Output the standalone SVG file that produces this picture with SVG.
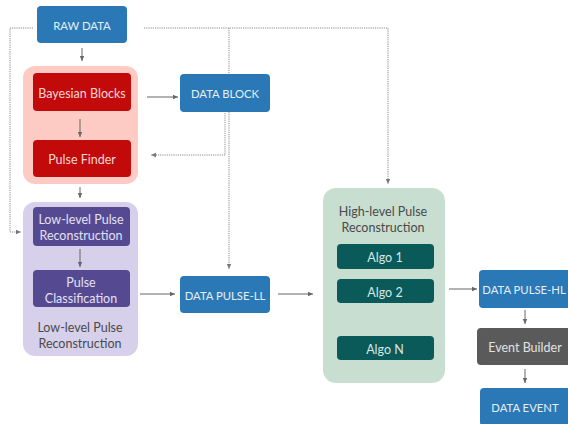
<svg xmlns="http://www.w3.org/2000/svg" width="568" height="424" viewBox="0 0 568 424">
<defs>
<style>
text{font-family:"Lato","Noto Sans","Liberation Sans",sans-serif;font-size:12.5px;text-anchor:middle;dominant-baseline:central}
.blue{fill:#2a79b6}
.wt{fill:#e6eef6;font-size:11.3px}
.gt{fill:#4a4a4a}
.solid{stroke:#666;stroke-width:1;fill:none}
.dot{stroke:#8a8a8a;stroke-width:1;stroke-dasharray:1.2 1;fill:none}
</style>
<marker id="ah" markerWidth="6" markerHeight="6" refX="5" refY="3" orient="auto" markerUnits="userSpaceOnUse">
<path d="M0,0.8 L5,3 L0,5.2 Z" fill="#666"/>
</marker>
<marker id="ahd" markerWidth="6" markerHeight="6" refX="5" refY="3" orient="auto" markerUnits="userSpaceOnUse">
<path d="M0,0.8 L5,3 L0,5.2 Z" fill="#777"/>
</marker>
</defs>
<rect width="568" height="424" fill="#fff"/>
<g id="raw-data"><rect class="blue" x="37" y="6" width="90" height="37" rx="4"/><text class="wt" x="82" y="25">RAW DATA</text></g>
<g id="pulse-finding-group"><rect x="23" y="66" width="115" height="118" rx="12" fill="#fdcbc3"/></g>
<g id="bayesian-blocks"><rect x="33" y="73" width="98" height="38" rx="4" fill="#c20a0a"/><text x="82" y="93" fill="#f6d6d6">Bayesian Blocks</text></g>
<g id="pulse-finder"><rect x="33" y="140" width="98" height="37" rx="4" fill="#c20a0a"/><text x="82" y="159" fill="#f6d6d6">Pulse Finder</text></g>
<g id="data-block"><rect class="blue" x="180" y="74" width="90" height="38" rx="4"/><text class="wt" x="225" y="93">DATA BLOCK</text></g>
<g id="low-level-group"><rect x="23" y="202" width="115" height="154" rx="12" fill="#d6d0ea"/><text class="gt" x="80" y="327">Low-level Pulse</text><text class="gt" x="80" y="343">Reconstruction</text></g>
<g id="low-level-reco"><rect x="33" y="207" width="97" height="39" rx="4" fill="#554a92"/><text x="81" y="219" fill="#e4e0f2">Low-level Pulse</text><text x="81" y="235" fill="#e4e0f2">Reconstruction</text></g>
<g id="pulse-classification"><rect x="33" y="270" width="97" height="37" rx="4" fill="#554a92"/><text x="81" y="282" fill="#e4e0f2">Pulse</text><text x="81" y="298" fill="#e4e0f2">Classification</text></g>
<g id="data-pulse-ll"><rect class="blue" x="180" y="276" width="90" height="37" rx="4"/><text class="wt" x="225" y="295">DATA PULSE-LL</text></g>
<g id="high-level-group"><rect x="323" y="188" width="122" height="195" rx="13" fill="#c8ded1"/><text class="gt" x="383" y="211">High-level Pulse</text><text class="gt" x="383" y="227">Reconstruction</text></g>
<g id="algo-1"><rect x="337" y="244" width="97" height="25" rx="4" fill="#0b5a5a"/><text x="385" y="257" fill="#d6e8e6">Algo 1</text></g>
<g id="algo-2"><rect x="337" y="279" width="97" height="24" rx="4" fill="#0b5a5a"/><text x="385" y="292" fill="#d6e8e6">Algo 2</text></g>
<g id="algo-n"><rect x="337" y="336" width="97" height="24" rx="4" fill="#0b5a5a"/><text x="385" y="349" fill="#d6e8e6">Algo N</text></g>
<g id="data-pulse-hl"><rect class="blue" x="479" y="270" width="92" height="38" rx="4"/><text class="wt" x="524" y="289">DATA PULSE-HL</text></g>
<g id="event-builder"><rect x="477" y="328" width="97" height="37" rx="4" fill="#5a5a5a"/><text x="525" y="347" fill="#e2e2e2">Event Builder</text></g>
<g id="data-event"><rect class="blue" x="480" y="388" width="91" height="38" rx="4"/><text class="wt" x="525" y="407">DATA EVENT</text></g>
<g id="connectors">
<path class="dot" d="M33,28 H10 V232 H21" marker-end="url(#ahd)"/>
<path class="dot" d="M144,28 H388 V184" marker-end="url(#ahd)"/>
<path class="dot" d="M229,28 V74"/>
<path class="dot" d="M229,112 V269" marker-end="url(#ahd)"/>
<path class="dot" d="M225,113 V155 H151" marker-end="url(#ahd)"/>
<path class="solid" d="M82,48 V61" marker-end="url(#ah)"/>
<path class="solid" d="M80,119 V137" marker-end="url(#ah)"/>
<path class="solid" d="M80,187 V198" marker-end="url(#ah)"/>
<path class="solid" d="M147,97 H178" marker-end="url(#ah)"/>
<path class="solid" d="M80,249 V267" marker-end="url(#ah)"/>
<path class="solid" d="M140,294 H175" marker-end="url(#ah)"/>
<path class="solid" d="M278,294 H313" marker-end="url(#ah)"/>
<path class="solid" d="M449,289 H477" marker-end="url(#ah)"/>
<path class="solid" d="M525,310 V324" marker-end="url(#ah)"/>
<path class="solid" d="M525,369 V383" marker-end="url(#ah)"/>
</g>
</svg>
